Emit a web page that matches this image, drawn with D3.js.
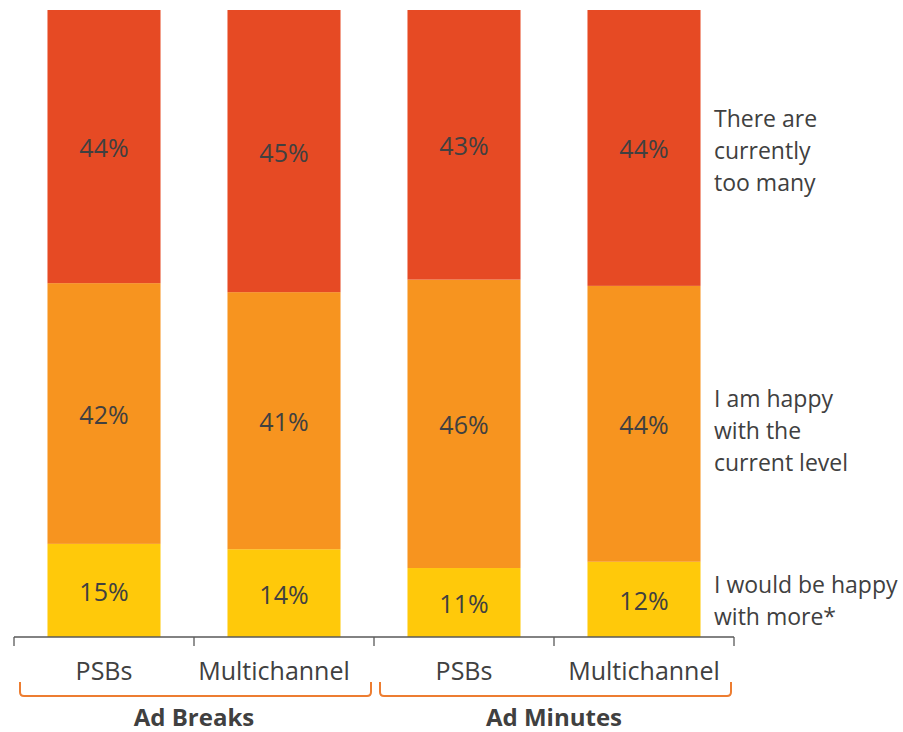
<!DOCTYPE html>
<html>
<head>
<meta charset="utf-8">
<script src="https://cdn.jsdelivr.net/npm/d3@7"></script>
<style>
  html, body { margin: 0; padding: 0; background: #fff; }
  svg { display: block; font-family: "Open Sans", Lato, sans-serif; }
</style>
</head>
<body>
<svg id="chart" width="903" height="732"></svg>
<script>
// Survey responses per channel group
const categories = ["PSBs", "Multichannel", "PSBs", "Multichannel"];
const groups = ["Ad Breaks", "Ad Minutes"];
const seriesNames = ["I would be happy with more*", "I am happy with the current level", "There are currently too many"];
const happyMore = [15, 14, 11, 12];
const happyCurrent = [42, 41, 46, 44];
const tooMany = [44, 45, 43, 44];

const legendLines = [
  ["I would be happy", "with more*"],
  ["I am happy", "with the", "current level"],
  ["There are", "currently", "too many"]
];
const colors = ["#FFC90A", "#F7941F", "#E64A24"];

const svg = d3.select("#chart");
const plotTop = 10, plotBottom = 637;
const ink = "#404040";

const seriesValues = [happyMore, happyCurrent, tooMany];
const rows = categories.map((c, i) => {
  const r = { idx: i };
  seriesValues.forEach((s, k) => r["s" + k] = s[i]);
  return r;
});

const x = d3.scaleBand()
  .domain(d3.range(categories.length))
  .range([14, 734])
  .paddingInner(0.372)
  .paddingOuter(0.186);

// 100% stacked: each bar normalised by its own total
const y = d3.scaleLinear().domain([0, 1]).range([plotBottom, plotTop]);
const stack = d3.stack().keys(["s0", "s1", "s2"]).offset(d3.stackOffsetExpand);
const stacked = stack(rows);

const layers = svg.append("g").selectAll("g")
  .data(stacked)
  .join("g")
  .attr("fill", (d, i) => colors[i]);

layers.selectAll("rect")
  .data(d => d)
  .join("rect")
  .attr("x", d => x(d.data.idx))
  .attr("width", x.bandwidth())
  .attr("y", d => y(d[1]))
  .attr("height", d => y(d[0]) - y(d[1]));

// Value labels
stacked.forEach((layer, k) => {
  svg.append("g").selectAll("text")
    .data(layer)
    .join("text")
    .attr("x", d => x(d.data.idx) + x.bandwidth() / 2)
    .attr("y", d => (y(d[0]) + y(d[1])) / 2)
    .attr("dy", "0.42em")
    .attr("text-anchor", "middle")
    .attr("font-size", 25)
    .attr("fill", ink)
    .text(d => seriesValues[k][d.data.idx] + "%");
});

// Category axis with dividers between bars
const axisG = svg.append("g").attr("stroke", "#595959").attr("stroke-width", 1.3);
axisG.append("line").attr("x1", 14).attr("x2", 734).attr("y1", plotBottom).attr("y2", plotBottom);
const edges = d3.range(categories.length + 1).map(i => x.range()[0] + i * x.step());
axisG.selectAll("line.tick").data(edges).join("line")
  .attr("class", "tick")
  .attr("x1", d => d).attr("x2", d => d)
  .attr("y1", plotBottom).attr("y2", plotBottom + 9);

// the long first-group label sits a little left so it clears its bracket end
const labelShift = [0, -10, 0, 0];
svg.append("g").selectAll("text")
  .data(categories)
  .join("text")
  .attr("x", (d, i) => x(i) + x.bandwidth() / 2 + labelShift[i])
  .attr("y", 680)
  .attr("text-anchor", "middle")
  .attr("font-size", 25)
  .attr("fill", ink)
  .text(d => d);

// Group brackets and titles
groups.forEach((g, gi) => {
  const x0 = edges[gi * 2] + 6;
  const x1 = edges[gi * 2 + 2] - 3;
  const yTop = 682, yBot = 696, r = 4;
  const p = d3.path();
  p.moveTo(x0, yTop);
  p.lineTo(x0, yBot - r);
  p.quadraticCurveTo(x0, yBot, x0 + r, yBot);
  p.lineTo(x1 - r, yBot);
  p.quadraticCurveTo(x1, yBot, x1, yBot - r);
  p.lineTo(x1, yTop);
  svg.append("path").attr("d", p.toString())
    .attr("fill", "none").attr("stroke", "#ED7D31").attr("stroke-width", 2);
  svg.append("text")
    .attr("x", (edges[gi * 2] + edges[gi * 2 + 2]) / 2)
    .attr("y", 726)
    .attr("text-anchor", "middle")
    .attr("font-size", 24)
    .attr("font-weight", "bold")
    .attr("fill", ink)
    .text(g);
});

// Series labels on the right
const legendBaselines = [593, 407, 127];
legendLines.forEach((lines, k) => {
  const t = svg.append("text")
    .attr("x", 714)
    .attr("font-size", 23)
    .attr("fill", ink);
  lines.forEach((ln, j) => {
    t.append("tspan")
      .attr("x", 714)
      .attr("y", legendBaselines[k] + j * 32)
      .text(ln);
  });
});
</script>
</body>
</html>
